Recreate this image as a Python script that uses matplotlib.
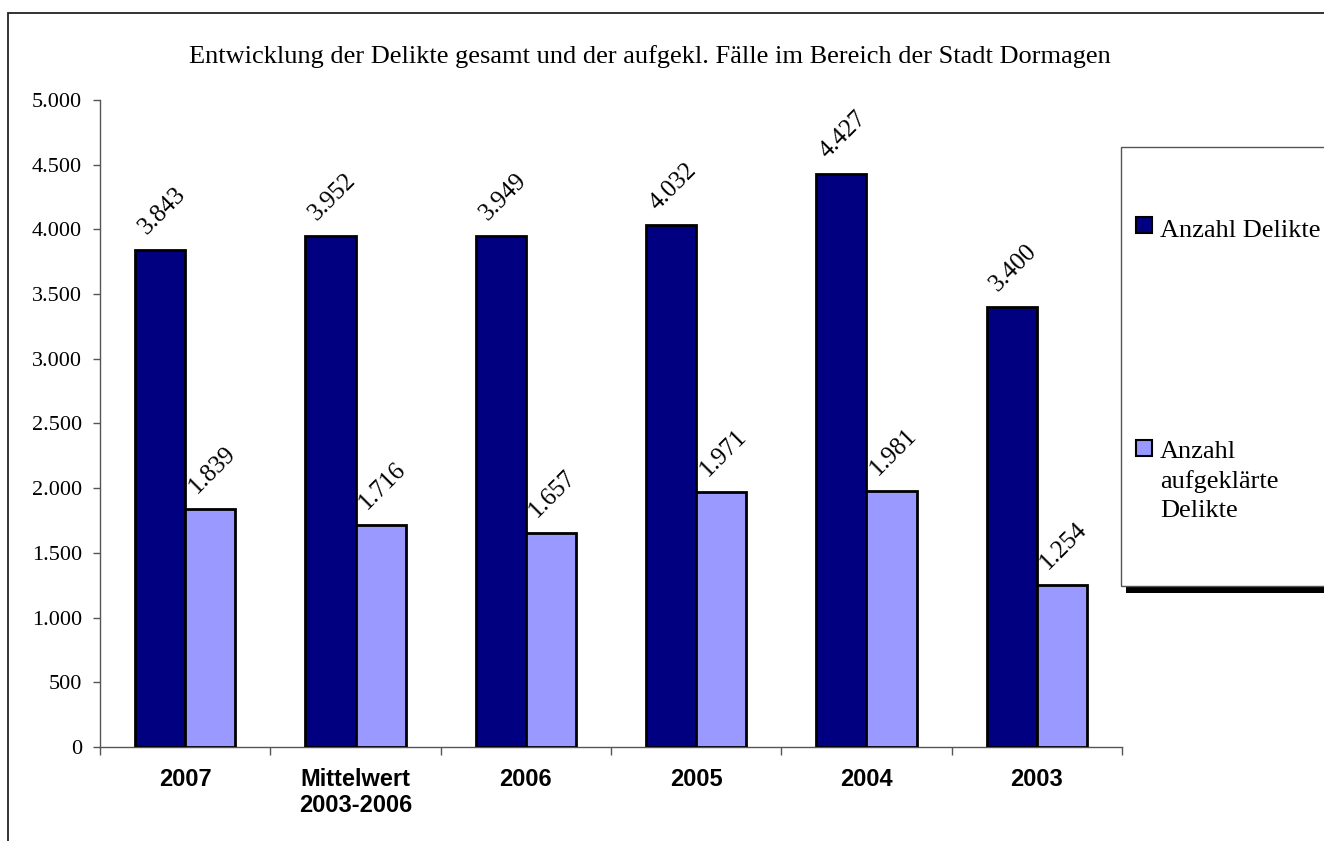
import matplotlib
matplotlib.use("Agg")
import matplotlib.pyplot as plt
from matplotlib.patches import Rectangle
from matplotlib.ticker import FuncFormatter, FixedLocator
import numpy as np

W, H = 1324, 841

categories = ["2007", "Mittelwert\n2003-2006", "2006", "2005", "2004", "2003"]
delikte = [3843, 3952, 3949, 4032, 4427, 3400]
aufgeklaert = [1839, 1716, 1657, 1971, 1981, 1254]
series_names = ["Anzahl Delikte", "Anzahl\naufgeklärte\nDelikte"]
colors = ["#000080", "#9999FF"]
title = "Entwicklung der Delikte gesamt und der aufgekl. Fälle im Bereich der Stadt Dormagen"

serif = "Liberation Serif"
sans = "Liberation Sans"


def fx(px):
    return px / W


def fy(py):
    return 1 - py / H


def de_format(v, pos=None):
    return f"{int(round(v)):,}".replace(",", ".")


fig = plt.figure(figsize=(W / 100, H / 100), dpi=100)
ax = fig.add_axes([fx(100), fy(747), fx(1122) - fx(100), fy(100) - fy(747)])

x = np.arange(len(categories))
bw = 0.294
b1 = ax.bar(x - bw / 2, delikte, bw, color=colors[0], edgecolor="black", linewidth=2, zorder=3)
b2 = ax.bar(x + bw / 2, aufgeklaert, bw, color=colors[1], edgecolor="black", linewidth=2, zorder=3)

# rotated value labels above every bar
for bars, vals in ((b1, delikte), (b2, aufgeklaert)):
    for rect, v in zip(bars, vals):
        ax.annotate(de_format(v), (rect.get_x() + rect.get_width() / 2, v),
                    xytext=(1.5, 8), textcoords="offset points",
                    ha="center", va="bottom", rotation=45,
                    fontsize=18, family=serif)

ax.set_xlim(-0.5, len(categories) - 0.5)
ax.set_ylim(0, 5000)
ax.set_yticks(np.arange(0, 5001, 500))
ax.yaxis.set_major_formatter(FuncFormatter(de_format))
for lbl in ax.get_yticklabels():
    lbl.set_family(serif)
    lbl.set_fontsize(16)
ax.tick_params(axis="y", length=5, width=1, color="#555555", pad=8)

# ticks between groups, labels at group centres
ax.xaxis.set_major_locator(FixedLocator(np.arange(-0.5, len(categories), 1.0)))
ax.xaxis.set_minor_locator(FixedLocator(x))
ax.set_xticklabels([])
ax.set_xticklabels(categories, minor=True, fontsize=17, fontweight="bold",
                   family=sans, linespacing=1.2)
ax.tick_params(axis="x", which="major", length=6, width=1, color="#555555")
ax.tick_params(axis="x", which="minor", length=0, pad=15)
for lbl in ax.get_xticklabels(minor=True):
    lbl.set_verticalalignment("top")

for side in ("top", "right"):
    ax.spines[side].set_visible(False)
for side in ("left", "bottom"):
    ax.spines[side].set_color("#555555")
    ax.spines[side].set_linewidth(1)

fig.text(fx(650), fy(63), title, ha="center", va="baseline", fontsize=19, family=serif)

# outer frame
fig.add_artist(Rectangle((fx(8), fy(900)), fx(1400), fy(13) - fy(900), transform=fig.transFigure,
                         fill=False, edgecolor="#222222", linewidth=1.3))

# legend box with shadow
fig.add_artist(Rectangle((fx(1126), fy(593)), fx(300), fy(586) - fy(593), transform=fig.transFigure,
                         facecolor="black", edgecolor="none", zorder=4))
fig.add_artist(Rectangle((fx(1121), fy(586)), fx(300), fy(147) - fy(586), transform=fig.transFigure,
                         facecolor="white", edgecolor="#555555", linewidth=1, zorder=5))
# (marker top, baseline of last text line, label)
legend_rows = ((217, 237, series_names[0]), (440, 517, series_names[1]))
for (top, base, name), col in zip(legend_rows, colors):
    fig.add_artist(Rectangle((fx(1136), fy(top + 16)), fx(16), fy(top) - fy(top + 16),
                             transform=fig.transFigure, facecolor=col,
                             edgecolor="black", linewidth=1.5, zorder=6))
    fig.text(fx(1160), fy(base), name, ha="left", va="baseline", fontsize=19,
             family=serif, linespacing=1.4, zorder=6)

fig.savefig("out.png", dpi=100)
